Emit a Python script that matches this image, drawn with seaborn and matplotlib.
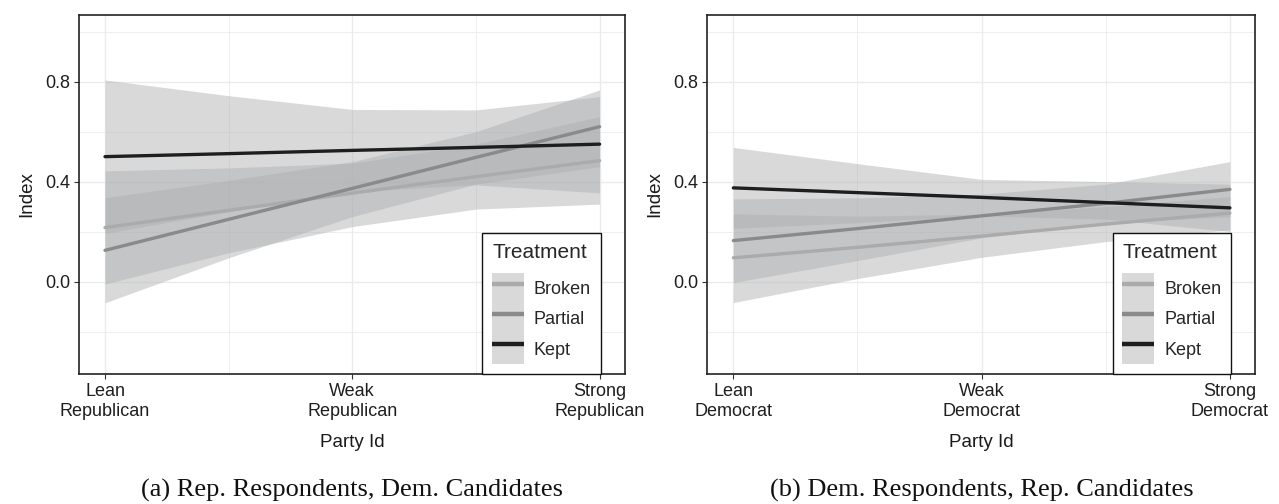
import numpy as np
import pandas as pd
import matplotlib
matplotlib.use("Agg")
import matplotlib.pyplot as plt
import seaborn as sns
from matplotlib.lines import Line2D
from matplotlib.patches import Patch

# party id positions where values were read (1 = lean, 2 = weak, 3 = strong)
party_x = [1, 1.5, 2, 2.5, 3]
treatments = ["Broken", "Partial", "Kept"]

rep_ticks = ["Lean\nRepublican", "Weak\nRepublican", "Strong\nRepublican"]
dem_ticks = ["Lean\nDemocrat", "Weak\nDemocrat", "Strong\nDemocrat"]

# (a) Rep. respondents, Dem. candidates
rep_broken_fit = [0.216, 0.285, 0.354, 0.420, 0.484]
rep_broken_lo = [-0.010, 0.115, 0.220, 0.290, 0.310]
rep_broken_hi = [0.443, 0.455, 0.474, 0.550, 0.660]
rep_partial_fit = [0.125, 0.249, 0.373, 0.497, 0.620]
rep_partial_lo = [-0.085, 0.095, 0.260, 0.390, 0.460]
rep_partial_hi = [0.336, 0.405, 0.480, 0.600, 0.767]
rep_kept_fit = [0.500, 0.512, 0.525, 0.537, 0.550]
rep_kept_lo = [0.193, 0.280, 0.361, 0.387, 0.355]
rep_kept_hi = [0.807, 0.744, 0.689, 0.687, 0.740]

# (b) Dem. respondents, Rep. candidates
dem_broken_fit = [0.095, 0.137, 0.182, 0.230, 0.274]
dem_broken_lo = [-0.084, 0.012, 0.097, 0.160, 0.207]
dem_broken_hi = [0.271, 0.262, 0.270, 0.300, 0.340]
dem_partial_fit = [0.164, 0.212, 0.263, 0.313, 0.369]
dem_partial_lo = [-0.004, 0.084, 0.175, 0.235, 0.260]
dem_partial_hi = [0.331, 0.335, 0.350, 0.390, 0.480]
dem_kept_fit = [0.375, 0.356, 0.337, 0.316, 0.295]
dem_kept_lo = [0.213, 0.236, 0.263, 0.250, 0.200]
dem_kept_hi = [0.537, 0.472, 0.409, 0.400, 0.390]

line_colors = {"Broken": "#ABABAB", "Partial": "#8A8A8A", "Kept": "#1E1E1E"}
band_color = "#ADAEB0"
band_alpha = 0.46

sns.set_style("white")
plt.rcParams["font.family"] = ["Liberation Sans", "DejaVu Sans"]


def long_table(fits):
    rows = []
    for t, vals in zip(treatments, fits):
        for x, v in zip(party_x, vals):
            rows.append({"party": x, "index": v, "Treatment": t})
    return pd.DataFrame(rows)


def draw_panel(ax, fits, los, his, ticklabels, caption):
    for lo, hi in zip(los, his):
        ax.fill_between(party_x, lo, hi, color=band_color, alpha=band_alpha,
                        linewidth=0, zorder=2)
    df = long_table(fits)
    sns.lineplot(data=df, x="party", y="index", hue="Treatment",
                 hue_order=treatments, palette=line_colors, linewidth=2.4,
                 errorbar=None, legend=False, ax=ax, zorder=3)

    ax.set_xlim(0.895, 3.103)
    ax.set_ylim(-0.37, 1.068)
    ax.set_xticks([1, 2, 3])
    ax.set_xticklabels(ticklabels)
    ax.set_xticks([1.5, 2.5], minor=True)
    ax.set_yticks([0.0, 0.4, 0.8])
    ax.set_yticklabels(["0.0", "0.4", "0.8"])
    ax.set_yticks([-0.2, 0.2, 0.6, 1.0], minor=True)
    ax.grid(which="major", color="#EBEBEB", linewidth=1.0)
    ax.grid(which="minor", color="#EBEBEB", linewidth=0.6)
    ax.set_axisbelow(True)
    ax.tick_params(axis="both", which="major", length=3.5, width=0.8,
                   color="#333333", labelsize=13, labelcolor="#1f1f1f", pad=3,
                   bottom=True, left=True)
    ax.tick_params(which="minor", length=0)
    for s in ax.spines.values():
        s.set_color("#222222")
        s.set_linewidth(1.2)

    ax.set_xlabel("Party Id", fontsize=13.5, color="#1a1a1a")
    ax.xaxis.set_label_coords(0.5, -0.19)
    ax.xaxis.label.set_va("center")
    ax.set_ylabel("Index", fontsize=13.5, color="#1a1a1a")
    ax.yaxis.set_label_coords(-0.095, 0.5)
    ax.yaxis.label.set_va("center")

    handles = [(Patch(facecolor=band_color, alpha=band_alpha, linewidth=0),
                Line2D([0], [0], color=line_colors[t], linewidth=3.2,
                       solid_capstyle="butt"))
               for t in treatments]
    leg = ax.legend(handles, treatments, title="Treatment",
                    loc="lower right", bbox_to_anchor=(0.9555, 0.0),
                    borderaxespad=0, fontsize=13, title_fontsize=15,
                    frameon=True, fancybox=False, framealpha=1,
                    edgecolor="#111111", handlelength=1.75, handleheight=2.2,
                    labelspacing=0.0, handletextpad=0.55, borderpad=0.55,
                    alignment="left")
    # gap between the title and the keys
    leg._legend_box.sep = 8
    leg.get_frame().set_linewidth(1.0)
    leg.set_zorder(5)

    pos = ax.get_position()
    fig.text(pos.x0 + pos.width / 2, 0.014, caption, ha="center",
             va="baseline", fontsize=19, family="Liberation Serif",
             color="#111111")


fig = plt.figure(figsize=(12.79, 5.04), dpi=100)
ax1 = fig.add_axes([0.0618, 0.2579, 0.4269, 0.7129])
ax2 = fig.add_axes([0.553, 0.2579, 0.4286, 0.7129])

draw_panel(ax1,
           [rep_broken_fit, rep_partial_fit, rep_kept_fit],
           [rep_broken_lo, rep_partial_lo, rep_kept_lo],
           [rep_broken_hi, rep_partial_hi, rep_kept_hi],
           rep_ticks, "(a) Rep. Respondents, Dem. Candidates")
draw_panel(ax2,
           [dem_broken_fit, dem_partial_fit, dem_kept_fit],
           [dem_broken_lo, dem_partial_lo, dem_kept_lo],
           [dem_broken_hi, dem_partial_hi, dem_kept_hi],
           dem_ticks, "(b) Dem. Respondents, Rep. Candidates")

fig.savefig("out.png", dpi=100)
